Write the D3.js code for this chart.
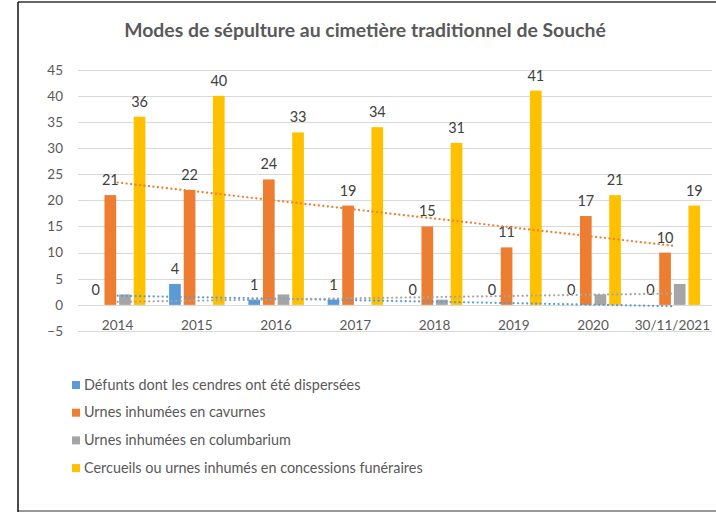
<!DOCTYPE html>
<html>
<head>
<meta charset="utf-8">
<script src="https://cdn.jsdelivr.net/npm/d3@7"></script>
<style>
  body { margin: 0; background: #fff; }
  svg { display: block; font-family: Lato, "Open Sans", sans-serif; }
</style>
</head>
<body>
<div id="chart"></div>
<script>
// Données du graphique
const categories = ['2014', '2015', '2016', '2017', '2018', '2019', '2020', '30/11/2021'];
const seriesNames = [
    'Défunts dont les cendres ont été dispersées',
    'Urnes inhumées en cavurnes',
    'Urnes inhumées en columbarium',
    'Cercueils ou urnes inhumés en concessions funéraires'
];
const dispersees = [0, 4, 1, 1, 0, 0, 0, 0];
const cavurnes = [21, 22, 24, 19, 15, 11, 17, 10];
const columbarium = [2, 0, 2, 0, 1, 0, 2, 4];
const concessions = [36, 40, 33, 34, 31, 41, 21, 19];
const yTicks = [-5, 0, 5, 10, 15, 20, 25, 30, 35, 40, 45];

const colors = ['#5B9BD5', '#ED7D31', '#A5A5A5', '#FFC000'];
const showLabels = [true, true, false, true];
const trendFor = [true, true, true, false];
const allValues = [dispersees, cavurnes, columbarium, concessions];

const W = 716, H = 513;
const svg = d3.select('#chart').append('svg')
    .attr('width', W)
    .attr('height', H);

// cadre
svg.append('line').attr('x1', 18).attr('x2', W).attr('y1', 2).attr('y2', 2)
    .style('stroke', '#666').style('stroke-width', 2);
svg.append('line').attr('x1', 18).attr('x2', W).attr('y1', 511).attr('y2', 511)
    .style('stroke', '#999').style('stroke-width', 2);
svg.append('line').attr('x1', 18).attr('x2', 18).attr('y1', 2).attr('y2', 512)
    .style('stroke', '#111').style('stroke-width', 1.5);

// titre
svg.append('text')
    .attr('x', 365)
    .attr('y', 37)
    .attr('text-anchor', 'middle')
    .style('font-size', '19.4px')
    .style('font-weight', 'bold')
    .style('fill', '#595959')
    .text('Modes de sépulture au cimetière traditionnel de Souché');

// échelles
const yScale = d3.scaleLinear().domain([-5, 45]).range([331, 69.7]);
const x0 = d3.scaleBand().domain(categories).range([78, 712]).padding(0);
const x1 = d3.scaleBand().domain(d3.range(4))
    .range([10.4, x0.bandwidth() - 10.4])
    .paddingInner(0.2).paddingOuter(0.1);

// grille
svg.append('g').selectAll('line')
    .data(yTicks)
    .enter()
    .append('line')
    .attr('x1', 78).attr('x2', 712)
    .attr('y1', d => Math.round(yScale(d)) + 0.5)
    .attr('y2', d => Math.round(yScale(d)) + 0.5)
    .style('stroke', '#d9d9d9')
    .style('stroke-width', 1);

// axe Y
const yAxis = svg.append('g')
    .attr('transform', 'translate(68,0)')
    .call(d3.axisLeft(yScale).tickValues(yTicks).tickSize(0).tickPadding(5));
yAxis.select('.domain').remove();
yAxis.selectAll('text')
    .style('font-family', 'Lato, "Open Sans", sans-serif')
    .style('font-size', '13.5px')
    .style('fill', '#595959');

// étiquettes des catégories
svg.append('g').selectAll('text')
    .data(categories)
    .enter()
    .append('text')
    .attr('x', d => x0(d) + x0.bandwidth() / 2)
    .attr('y', 330)
    .attr('text-anchor', 'middle')
    .style('font-size', '13.6px')
    .style('fill', '#595959')
    .text(d => d);

// barres
const groups = svg.append('g').selectAll('g')
    .data(categories)
    .enter()
    .append('g')
    .attr('transform', d => `translate(${x0(d)},0)`);

groups.selectAll('rect')
    .data((c, i) => allValues.map((vals, s) => ({ s, v: vals[i] })))
    .enter()
    .append('rect')
    .attr('x', d => x1(d.s))
    .attr('width', x1.bandwidth())
    .attr('y', d => yScale(Math.max(0, d.v)))
    .attr('height', d => Math.abs(yScale(d.v) - yScale(0)))
    .style('fill', d => colors[d.s]);

// courbes de tendance (régression linéaire)
function linearFit(vals) {
    const n = vals.length;
    const xs = d3.range(1, n + 1);
    const mx = d3.mean(xs), my = d3.mean(vals);
    let sxy = 0, sxx = 0;
    xs.forEach((x, i) => {
        sxy += (x - mx) * (vals[i] - my);
        sxx += (x - mx) * (x - mx);
    });
    const slope = sxy / sxx;
    return x => my + slope * (x - mx);
}

allValues.forEach((vals, s) => {
    if (!trendFor[s]) return;
    const f = linearFit(vals);
    const first = categories[0], last = categories[categories.length - 1];
    svg.append('line')
        .attr('x1', x0(first) + x0.bandwidth() / 2)
        .attr('y1', yScale(f(1)))
        .attr('x2', x0(last) + x0.bandwidth() / 2)
        .attr('y2', yScale(f(vals.length)))
        .style('stroke', colors[s])
        .style('stroke-width', 2.2)
        .style('stroke-linecap', 'round')
        .style('stroke-dasharray', '0.1,4.4');
});

// étiquettes de données
groups.selectAll('text.val')
    .data((c, i) => allValues.map((vals, s) => ({ s, v: vals[i] })).filter(d => showLabels[d.s]))
    .enter()
    .append('text')
    .attr('class', 'val')
    .attr('x', d => x1(d.s) + x1.bandwidth() / 2)
    .attr('y', d => yScale(Math.max(0, d.v)) - 10)
    .attr('text-anchor', 'middle')
    .style('font-size', '14.5px')
    .style('fill', '#404040')
    .text(d => d.v);

// légende
const legend = svg.append('g').selectAll('g')
    .data(seriesNames)
    .enter()
    .append('g')
    .attr('transform', (d, i) => `translate(72,${385 + i * 27.7})`);

legend.append('rect')
    .attr('x', 0).attr('y', -4)
    .attr('width', 8).attr('height', 8)
    .style('fill', (d, i) => colors[i]);

legend.append('text')
    .attr('x', 12)
    .attr('y', 4.7)
    .style('font-size', '14.4px')
    .style('fill', '#595959')
    .text(d => d);
</script>
</body>
</html>
